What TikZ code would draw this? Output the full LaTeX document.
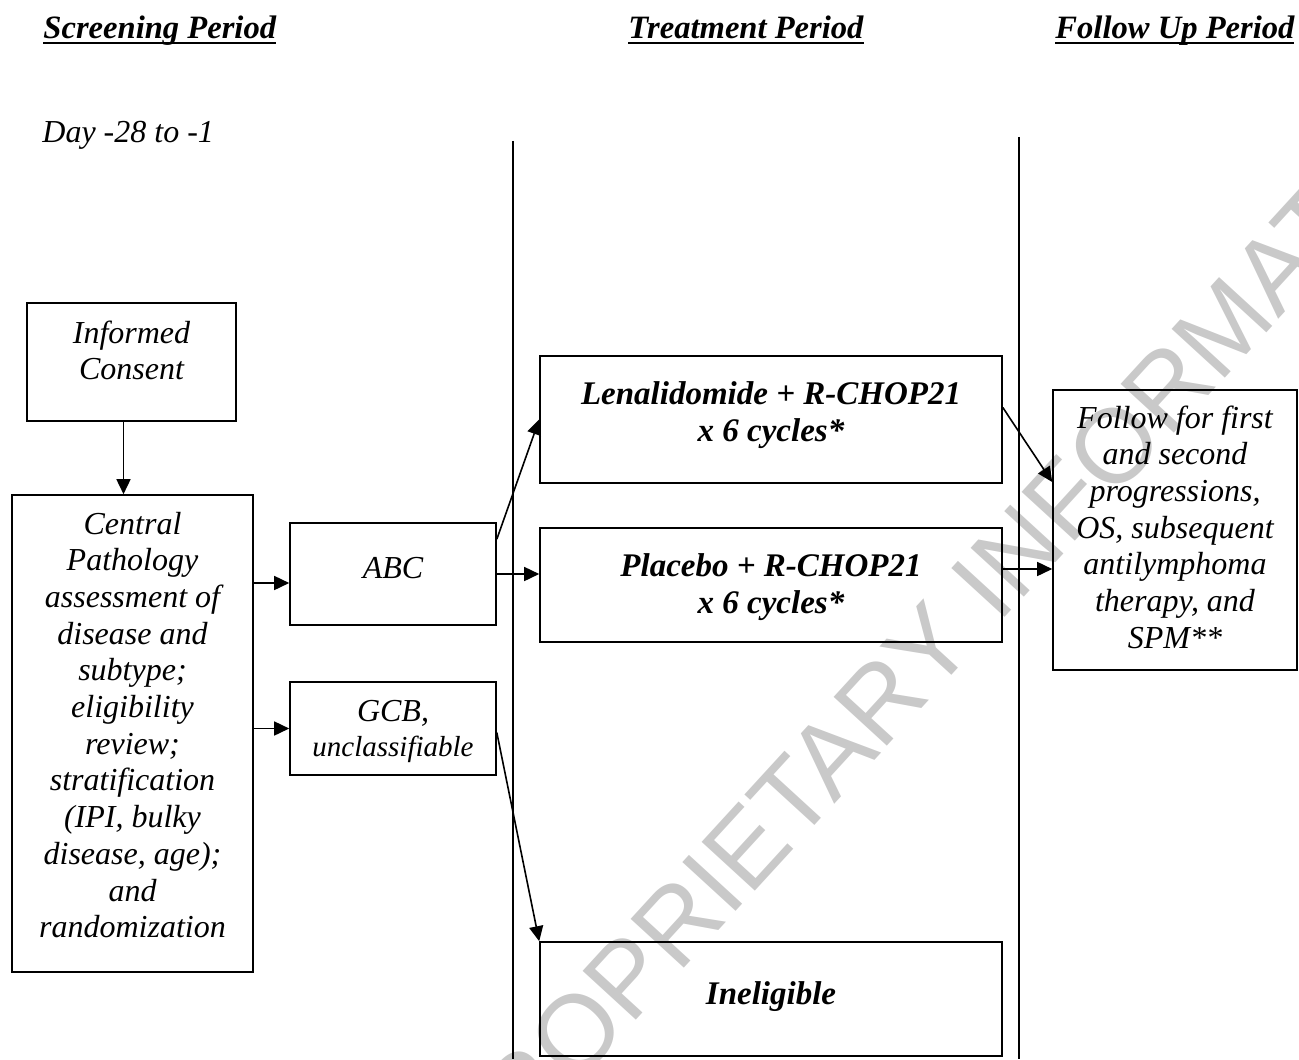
\documentclass[tikz,border=0pt]{standalone}
\usepackage{fontspec}
\setmainfont{Liberation Serif}
\setsansfont{Liberation Sans}
\usetikzlibrary{arrows.meta}

\newcommand\ulhead[1]{\setbox0\hbox{#1}\rlap{\rule[-2.4pt]{\wd0}{1pt}}\box0}

\tikzset{x=0.5pt, y=-0.5pt,
  box/.style={draw, line width=0.8pt, inner sep=0pt, anchor=base, align=flush center,
    font=\itshape\fontsize{16}{18.35}\selectfont},
  arm/.style={box, font=\bfseries\itshape\fontsize{16.5}{18.8}\selectfont},
  head/.style={anchor=base west, inner sep=0pt, font=\bfseries\itshape\fontsize{16.3}{19}\selectfont},
  arr/.style={line width=0.8pt, -{Triangle[length=7.5pt,width=7pt]}},
  divider/.style={line width=0.9pt}}

\begin{document}
\begin{tikzpicture}
  \path [use as bounding box, clip] (0,0) rectangle (1299,1059);
  \node [rotate=47.5, text=black!21, font=\sffamily\fontsize{52.5}{60}\selectfont]
    (stamp) at (957,617) {PROPRIETARY INFORMATION};

  \node [head] (screenhd) at (43,39) {\ulhead{Screening Period}};
  \node [head] (treathd) at (628,39) {\ulhead{Treatment Period}};
  \node [head] (followhd) at (1055,39) {\ulhead{Follow Up Period}};
  \node [anchor=base west, inner sep=0pt, font=\itshape\fontsize{16}{18}\selectfont]
    (days) at (42,143) {Day -28 to -1};

  \draw [divider] (513,141) -- (513,1059);
  \draw [divider] (1019,137) -- (1019,1059);

  \node [box, text width=104.5pt, text height=20pt, text depth=39pt]
    (consent) at (131.5,343) {Informed\\Consent};
  \node [box, text width=120.5pt, text height=19.5pt, text depth=219pt]
    (central) at (132.5,534) {Central\\Pathology\\assessment of\\disease and\\subtype;\\eligibility\\review;\\stratification\\(IPI, bulky\\disease, age);\\and\\randomization};
  \node [box, text width=103pt, text height=27.5pt, text depth=23.5pt]
    (abc) at (393,578) {ABC};
  \node [box, text width=103pt, text height=19.5pt, text depth=27pt]
    (gcb) at (393,721) {GCB,\\[-0.8pt]{\fontsize{14.5}{17}\selectfont unclassifiable}};
  \node [arm, text width=231pt, text height=24pt, text depth=39.5pt]
    (lenal) at (771,404) {Lenalidomide + R-CHOP21\\x 6 cycles*};
  \node [arm, text width=231pt, text height=24pt, text depth=33pt]
    (placebo) at (771,576) {Placebo + R-CHOP21\\x 6 cycles*};
  \node [arm, text width=231pt, text height=31pt, text depth=26pt]
    (inelig) at (771,1004) {Ineligible};
  \node [box, text width=122pt, text height=19pt, text depth=121pt]
    (follow) at (1175,428) {Follow for first\\and second\\progressions,\\OS, subsequent\\antilymphoma\\therapy, and\\SPM**};

  \draw [arr] ([xshift=-4pt]consent.south) -- ([xshift=-4pt]consent.south |- central.north);
  \draw [arr] ([yshift=-4.5pt]central.east |- abc.west) -- ([yshift=-4.5pt]abc.west);
  \draw [arr] (central.east |- gcb.west) -- (gcb.west);
  \draw [arr] ([yshift=-8.5pt]abc.north east) -- (lenal.west);
  \draw [arr] (abc.east) -- (placebo.west |- abc.east);
  \draw [arr] ([yshift=-2pt]gcb.east) -- (inelig.north west);
  \draw [arr] ([yshift=6pt]lenal.east) -- ([yshift=24pt]follow.west);
  \draw [arr] ([yshift=8pt]placebo.east) -- ([yshift=-19.5pt]follow.west);
\end{tikzpicture}
\end{document}
